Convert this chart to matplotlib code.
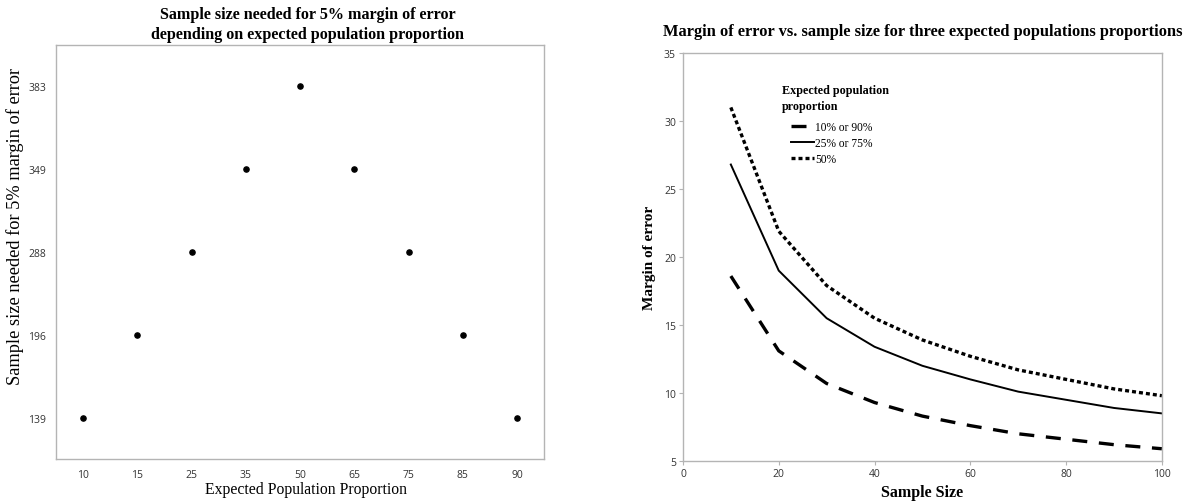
import numpy as np
import matplotlib
matplotlib.use('Agg')
from matplotlib import pyplot as plt

# Left panel: sample size needed for a 5% margin of error
proportions = ['10', '15', '25', '35', '50', '65', '75', '85', '90']
sample_sizes = [139, 196, 288, 349, 383, 349, 288, 196, 139]

# Right panel: margin of error (%) by sample size
n_values = [10, 20, 30, 40, 50, 60, 70, 80, 90, 100]
moe_10_90 = [18.6, 13.1, 10.7, 9.3, 8.3, 7.6, 7.0, 6.6, 6.2, 5.9]
moe_25_75 = [26.8, 19.0, 15.5, 13.4, 12.0, 11.0, 10.1, 9.5, 8.9, 8.5]
moe_50 = [31.0, 21.9, 17.9, 15.5, 13.9, 12.7, 11.7, 11.0, 10.3, 9.8]

SERIF = 'Liberation Serif'
TICK_FONT = 'Open Sans'
FRAME = '#b4b4b4'

fig = plt.figure(figsize=(11.95, 5.02), dpi=100)

# ---- left: categorical scatter
ax1 = fig.add_axes([0.0469, 0.0837, 0.4084, 0.8247])
y_levels = sorted(set(sample_sizes))
x_pos = np.arange(len(proportions))
y_pos = [y_levels.index(v) for v in sample_sizes]
ax1.scatter(x_pos, y_pos, s=14, color='black', zorder=3)
ax1.set_xlim(-0.5, len(proportions) - 0.5)
ax1.set_ylim(-0.5, len(y_levels) - 0.5)
ax1.set_xticks(x_pos)
ax1.set_xticklabels(proportions)
ax1.set_yticks(range(len(y_levels)))
ax1.set_yticklabels([str(v) for v in y_levels])
ax1.tick_params(length=0, pad=7, labelsize=7.5, labelcolor='#333333')
for lab in ax1.get_xticklabels() + ax1.get_yticklabels():
    lab.set_family(TICK_FONT)
for sp in ax1.spines.values():
    sp.set_color(FRAME)
    sp.set_linewidth(1.0)
ax1.set_xlabel('Expected Population Proportion', family=SERIF, fontsize=11.3)
ax1.xaxis.set_label_coords(0.512, -0.052)
ax1.set_ylabel('Sample size needed for 5% margin of error', family=SERIF, fontsize=13.2)
ax1.yaxis.set_label_coords(-0.066, 0.563)
ax1.set_title('Sample size needed for 5% margin of error\ndepending on expected population proportion',
              family=SERIF, fontweight='bold', fontsize=11.6, pad=5, linespacing=1.3,
              x=0.516)

# ---- right: margin of error curves
ax2 = fig.add_axes([0.5715, 0.0797, 0.4008, 0.8127])
ax2.plot(n_values, moe_10_90, color='black', lw=2.4, linestyle=(0, (4.5, 3.5)),
         label='10% or 90%')
ax2.plot(n_values, moe_25_75, color='black', lw=1.4, linestyle='-', label='25% or 75%')
ax2.plot(n_values, moe_50, color='black', lw=2.4, linestyle=(0, (1.2, 0.9)), label='50%')
ax2.set_xlim(0, 100)
ax2.set_ylim(5, 35)
ax2.set_xticks([0, 20, 40, 60, 80, 100])
ax2.set_yticks([5, 10, 15, 20, 25, 30, 35])
ax2.tick_params(length=3, width=0.8, color=FRAME, pad=2, labelsize=7.5, labelcolor='#333333')
for lab in ax2.get_xticklabels() + ax2.get_yticklabels():
    lab.set_family(TICK_FONT)
for sp in ax2.spines.values():
    sp.set_color(FRAME)
    sp.set_linewidth(1.0)
ax2.set_xlabel('Sample Size', family=SERIF, fontweight='bold', fontsize=11.5, labelpad=4)
ax2.set_ylabel('Margin of error', family=SERIF, fontweight='bold', fontsize=11, labelpad=6)
ax2.set_title('Margin of error vs. sample size for three expected populations proportions',
              family=SERIF, fontweight='bold', fontsize=11.8, pad=13)

# legend title sits slightly left of the entries
ax2.text(0.206, 0.925, 'Expected population\nproportion', transform=ax2.transAxes,
         family=SERIF, fontweight='bold', fontsize=8.7, linespacing=1.45, va='top', ha='left')
ax2.legend(loc='upper left', bbox_to_anchor=(0.225, 0.833), frameon=False,
           prop={'family': SERIF, 'size': 8.3}, handlelength=2.0, handletextpad=0.15,
           labelspacing=0.35, borderaxespad=0, borderpad=0)

fig.savefig('out.png', dpi=100)
